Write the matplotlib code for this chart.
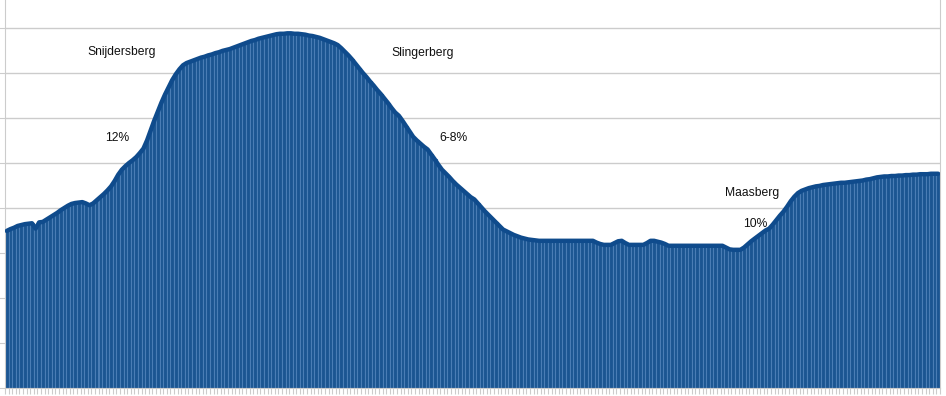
import numpy as np
import matplotlib
matplotlib.use('Agg')
import matplotlib.pyplot as plt

# elevation per sample point (m)
elevation = [
    34.9, 35.3, 35.6, 36.0, 36.2, 36.4, 36.5, 36.6, 35.4, 36.8,
    36.9, 37.4, 37.9, 38.4, 38.9, 39.5, 40.0, 40.5, 40.9, 41.1,
    41.2, 41.3, 41.0, 40.6, 41.0, 41.7, 42.4, 43.1, 43.9, 44.8,
    46.0, 47.4, 48.5, 49.3, 50.0, 50.6, 51.3, 52.2, 53.2, 55.0,
    57.2, 59.4, 61.4, 63.4, 65.2, 66.8, 68.4, 69.7, 70.8, 71.7,
    72.2, 72.5, 72.8, 73.1, 73.4, 73.6, 73.9, 74.1, 74.4, 74.6,
    74.9, 75.1, 75.3, 75.6, 75.9, 76.2, 76.5, 76.8, 77.1, 77.3,
    77.6, 77.8, 78.0, 78.2, 78.4, 78.6, 78.7, 78.7, 78.8, 78.8,
    78.7, 78.7, 78.6, 78.5, 78.3, 78.2, 78.0, 77.8, 77.5, 77.2,
    76.9, 76.6, 76.2, 75.5, 74.7, 73.9, 73.0, 72.0, 71.0, 70.0,
    69.1, 68.1, 67.2, 66.2, 65.3, 64.3, 63.3, 62.2, 61.2, 60.5,
    59.4, 58.2, 57.0, 55.8, 55.0, 54.3, 53.6, 53.0, 51.9, 50.8,
    49.6, 48.5, 47.7, 46.9, 46.0, 45.2, 44.5, 43.8, 43.1, 42.4,
    41.9, 41.0, 40.1, 39.2, 38.4, 37.6, 36.8, 36.0, 35.2, 34.8,
    34.4, 34.0, 33.7, 33.4, 33.2, 33.0, 32.9, 32.8, 32.7, 32.7,
    32.7, 32.7, 32.7, 32.7, 32.7, 32.7, 32.7, 32.7, 32.7, 32.7,
    32.7, 32.7, 32.7, 32.7, 32.3, 32.0, 31.8, 31.8, 31.8, 32.2,
    32.6, 32.7, 32.2, 31.8, 31.8, 31.8, 31.8, 31.8, 32.2, 32.7,
    32.7, 32.5, 32.3, 32.0, 31.6, 31.6, 31.6, 31.6, 31.6, 31.6,
    31.6, 31.6, 31.6, 31.6, 31.6, 31.6, 31.6, 31.6, 31.6, 31.6,
    31.2, 30.8, 30.7, 30.7, 30.7, 31.2, 31.9, 32.6, 33.2, 33.8,
    34.4, 35.0, 35.4, 36.3, 37.3, 38.3, 39.2, 40.3, 41.5, 42.5,
    43.3, 43.8, 44.1, 44.4, 44.6, 44.8, 44.9, 45.1, 45.2, 45.3,
    45.4, 45.5, 45.6, 45.6, 45.7, 45.8, 45.9, 46.0, 46.1, 46.3,
    46.4, 46.6, 46.8, 46.9, 47.0, 47.0, 47.1, 47.1, 47.2, 47.2,
    47.3, 47.3, 47.4, 47.4, 47.5, 47.5, 47.5, 47.6, 47.6, 47.6,
]

# labels on the climbs: (text, sample index, elevation)
labels = ['Snijdersberg', '12%', 'Slingerberg', '6-8%', 'Maasberg', '10%']
label_x = [32.0, 30.6, 115.7, 124.1, 207.2, 208.1]
label_y = [74.7, 55.6, 74.4, 55.6, 43.3, 36.4]

plt.rcParams['font.family'] = ['Liberation Sans', 'DejaVu Sans']

fig = plt.figure(figsize=(9.46, 3.96), dpi=100)
ax = fig.add_axes([5 / 946, 8 / 396, 935 / 946, 388 / 396])

x = np.arange(len(elevation))
ax.bar(x, elevation, width=1.0, color='#1b5592', edgecolor='#4a7db5',
       linewidth=0.8, zorder=2)
ax.plot(x, elevation, color='#0f4b8c', linewidth=3.2,
        solid_capstyle='round', solid_joinstyle='round', zorder=3)

for t, lx, ly in zip(labels, label_x, label_y):
    ax.text(lx, ly, t, ha='center', va='center', fontsize=8.7,
            color='#111111', zorder=4)

ax.set_xlim(-0.5, len(elevation) - 0.5)
ax.set_ylim(0, 86.2)
ax.set_yticks(np.arange(0, 90, 10))
ax.set_xticks(np.arange(len(elevation) + 1) - 0.5)
ax.set_xticklabels([])
ax.set_yticklabels([])
ax.yaxis.grid(True, color='#cccccc', linewidth=1.0, zorder=0)
ax.set_axisbelow(True)
ax.tick_params(axis='both', length=4, width=0.8, color='#cccccc')

for side in ['left', 'right', 'bottom']:
    ax.spines[side].set_color('#cccccc')
ax.spines['top'].set_visible(False)

fig.savefig('out.png', dpi=100)
